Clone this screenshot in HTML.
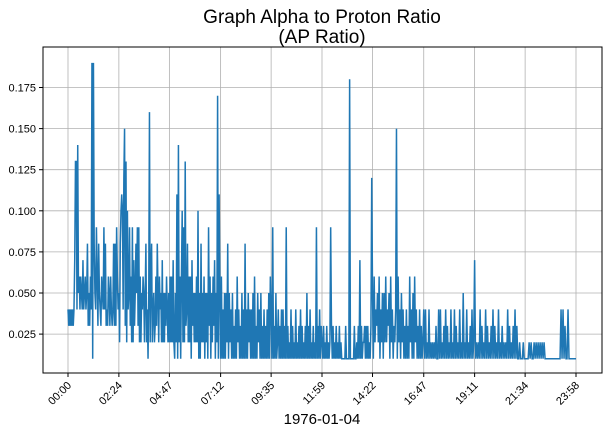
<!DOCTYPE html>
<html><head><meta charset="utf-8"><style>
body{margin:0;background:#fff;}
svg{display:block;font-family:"Liberation Sans",sans-serif;}
</style></head><body>
<svg id="chart" width="608" height="433">
<text x="322" y="23" text-anchor="middle" font-size="19">Graph Alpha to Proton Ratio</text>
<text x="322" y="43" text-anchor="middle" font-size="19">(AP Ratio)</text>
<g id="grid"></g>
<g id="series"></g>
<rect x="43" y="47" width="559" height="326" fill="none" stroke="#000" stroke-width="1"/>
<g id="axes"></g>
<text x="322" y="424" text-anchor="middle" font-size="15">1976-01-04</text>
</svg>
<script>
const xTickMinutes=[0,144,287,432,575,719,862,1007,1151,1294,1438];
const xTickLabels=["00:00","02:24","04:47","07:12","09:35","11:59","14:22","16:47","19:11","21:34","23:58"];
const yTicks=[0.025,0.05,0.075,0.1,0.125,0.15,0.175];
const yTickLabels=["0.025","0.050","0.075","0.100","0.125","0.150","0.175"];
const startMinute=0, endMinute=1438;
// segment start minutes; samples in each segment are evenly spaced until the next start
const segmentStarts=[0,144,287,432,575,719,862,1007,1151,1294];
// values in hundredths, one char per sample (1-9, a=10 ... j=19)
const segmentCodes=[
"4343434347dd4e564654745645835364j1j854963854365494834365364348383964",
"528aba4cf3d2a459362927358593926254652582415g268245236385264527252536425",
"2626272152b1e2616a292d3482626173525262a1518252615251936152637152h1b5",
"1614151528152415131416241315141814152414151613152415131413141516",
"4191315124131414131913121413121412131413121315131412131219131413",
"21312131212931312131213121111131111i111113112131713122313131213c",
"51624352614251526243516241324f16241524131413162415162413141312",
"4141214121212131141412131413121412141312141215121412131412",
"7121214131214131213141312141213121214131213141311211121",
"1111212112121212121211111111111111114141311411111111"
];
const NS="http://www.w3.org/2000/svg";
const X=m=>68+(m-startMinute)*(508/(endMinute-startMinute));
const Y=v=>375.2-v*1644;
const grid=document.getElementById('grid'),axes=document.getElementById('axes'),ser=document.getElementById('series');
function mk(tag,attrs,parent){const e=document.createElementNS(NS,tag);for(const k in attrs)e.setAttribute(k,attrs[k]);parent.appendChild(e);return e;}
xTickMinutes.forEach((m,i)=>{
 const x=X(m);
 const g=mk('line',{x1:x,x2:x,y1:47,y2:373,stroke:'#b0b0b0','stroke-width':0.8},grid);
 
 
 const t=mk('line',{x1:x,x2:x,y1:373,y2:377,stroke:'#000'},axes);
 
 
 const tx=mk('text',{x:x+4,y:386,'font-size':11,'text-anchor':'end',transform:`rotate(-45 ${x+4} 386)`},axes);
 tx.textContent=xTickLabels[i];
 
 
});
yTicks.forEach((v,i)=>{
 const y=Y(v);
 const g=mk('line',{x1:43,x2:602,y1:y,y2:y,stroke:'#b0b0b0','stroke-width':0.8},grid);
 
 
 const t=mk('line',{x1:39,x2:43,y1:y,y2:y,stroke:'#000'},axes);
 
 
 const tx=mk('text',{x:36,y:y+4,'font-size':11,'text-anchor':'end'},axes);
 tx.textContent=yTickLabels[i];
 
 
});
let d='';
segmentCodes.forEach((codes,s)=>{
 const a=segmentStarts[s], b=(s+1<segmentStarts.length)?segmentStarts[s+1]:endMinute;
 const n=codes.length, last=(s===segmentCodes.length-1);
 const step=(b-a)/(last?n-1:n);
 codes.split('').forEach((c,i)=>{
  const v=parseInt(c,36)/100;
  d+=(d?'L':'M')+X(a+i*step).toFixed(2)+' '+Y(v).toFixed(2);
 });
});
const p=mk('path',{d:d,fill:'none',stroke:'#1f77b4','stroke-width':1.5},ser);


</script>
</body></html>
